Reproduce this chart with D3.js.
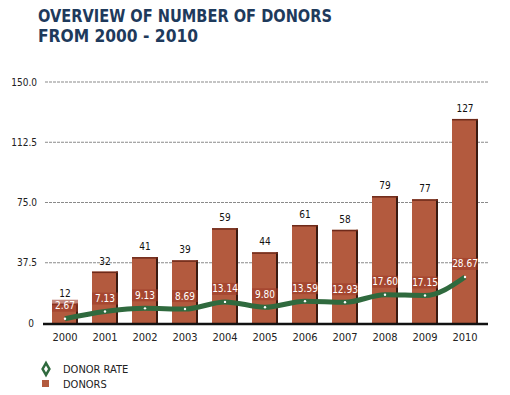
<!DOCTYPE html>
<html>
<head>
<meta charset="utf-8">
<script src="https://cdnjs.cloudflare.com/ajax/libs/d3/7.8.5/d3.min.js"></script>
<style>
  body { margin: 0; background: #fff; }
  svg { display: block; }
</style>
</head>
<body>
<div id="chart"></div>
<script>
// data
var years = ['2000', '2001', '2002', '2003', '2004', '2005', '2006', '2007', '2008', '2009', '2010']
var donors = [12, 32, 41, 39, 59, 44, 61, 58, 79, 77, 127]
var donorRate = [2.67, 7.13, 9.13, 8.69, 13.14, 9.80, 13.59, 12.93, 17.60, 17.15, 28.67]
var rateLabels = ['2.67', '7.13', '9.13', '8.69', '13.14', '9.80', '13.59', '12.93', '17.60', '17.15', '28.67']
var yTicks = [0, 37.5, 75, 112.5, 150]

var width = 510
var height = 395
var margin = {top: 82, left: 45, right: 25, bottom: 72}

var svg = d3.select('#chart')
    .append('svg')
    .attr('width', width)
    .attr('height', height)

// title
var title = svg.append('g')
    .attr('font-family', '"DejaVu Sans Condensed", "DejaVu Sans", sans-serif')
    .attr('font-weight', 'bold')
    .attr('font-size', 17)
    .attr('fill', '#1e3a5c')
title.append('text').attr('x', 38).attr('y', 22)
    .attr('textLength', 294).attr('lengthAdjust', 'spacingAndGlyphs')
    .text('OVERVIEW OF NUMBER OF DONORS')
title.append('text').attr('x', 38).attr('y', 42)
    .attr('textLength', 160).attr('lengthAdjust', 'spacingAndGlyphs')
    .text('FROM 2000 - 2010')

var x = d3.scaleBand()
    .domain(years)
    .range([margin.left, 485])
    .paddingInner(0.35)
    .paddingOuter(0.175)

var y = d3.scaleLinear()
    .domain([0, 150])
    .range([323, margin.top])

// gridlines
svg.append('g')
    .selectAll('line')
    .data(yTicks.filter(d => d > 0))
    .enter().append('line')
    .attr('x1', 45)
    .attr('x2', 488)
    .attr('y1', d => y(d))
    .attr('y2', d => y(d))
    .attr('stroke', '#8a8a8a')
    .attr('stroke-width', 1.2)
    .attr('stroke-dasharray', '3,1')

// y tick labels
svg.append('g')
    .attr('font-family', '"DejaVu Sans Condensed", "DejaVu Sans", sans-serif')
    .attr('font-size', 10)
    .attr('fill', '#222')
    .attr('text-anchor', 'end')
    .selectAll('text')
    .data(yTicks)
    .enter().append('text')
    .attr('x', d => d === 0 ? 34 : 37)
    .attr('y', d => y(d))
    .attr('dy', '0.35em')
    .text(d => d === 0 ? '0' : d3.format('.1f')(d))

// bars
var bars = svg.append('g')
bars.selectAll('rect.bar')
    .data(donors)
    .enter().append('rect')
    .attr('class', 'bar')
    .attr('x', (d, i) => x(years[i]))
    .attr('y', d => y(d))
    .attr('width', x.bandwidth())
    .attr('height', d => y(0) - y(d))
    .attr('fill', '#b35a3e')
// dark right edge
bars.selectAll('rect.edge')
    .data(donors)
    .enter().append('rect')
    .attr('class', 'edge')
    .attr('x', (d, i) => x(years[i]) + x.bandwidth() - 2)
    .attr('y', d => y(d))
    .attr('width', 2)
    .attr('height', d => y(0) - y(d))
    .attr('fill', '#3a1a10')
// darker top edge
bars.selectAll('rect.top')
    .data(donors)
    .enter().append('rect')
    .attr('class', 'top')
    .attr('x', (d, i) => x(years[i]))
    .attr('y', d => y(d))
    .attr('width', x.bandwidth())
    .attr('height', 1.5)
    .attr('fill', '#6e2a1a')

// donor counts
svg.append('g')
    .attr('font-family', '"DejaVu Sans Condensed", "DejaVu Sans", sans-serif')
    .attr('font-size', 10)
    .attr('fill', '#111')
    .attr('text-anchor', 'middle')
    .selectAll('text')
    .data(donors)
    .enter().append('text')
    .attr('x', (d, i) => x(years[i]) + x.bandwidth() / 2)
    .attr('y', d => y(d) - 7)
    .text(d => d)

// baseline
svg.append('line')
    .attr('x1', 43)
    .attr('x2', 488)
    .attr('y1', y(0) + 1)
    .attr('y2', y(0) + 1)
    .attr('stroke', '#111')
    .attr('stroke-width', 2.5)

// year labels
svg.append('g')
    .attr('font-family', '"DejaVu Sans Condensed", "DejaVu Sans", sans-serif')
    .attr('font-size', 11)
    .attr('fill', '#222')
    .attr('text-anchor', 'middle')
    .selectAll('text')
    .data(years)
    .enter().append('text')
    .attr('x', d => x(d) + x.bandwidth() / 2)
    .attr('y', 341)
    .text(d => d)

// donor rate line
var line = d3.line()
    .x((d, i) => x(years[i]) + x.bandwidth() / 2)
    .y(d => y(d))
    .curve(d3.curveMonotoneX)

svg.append('path')
    .datum(donorRate)
    .attr('d', line)
    .attr('fill', 'none')
    .attr('stroke', '#2f6a3e')
    .attr('stroke-width', 5)
    .attr('stroke-linejoin', 'round')

svg.append('g')
    .selectAll('circle')
    .data(donorRate)
    .enter().append('circle')
    .attr('cx', (d, i) => x(years[i]) + x.bandwidth() / 2)
    .attr('cy', d => y(d))
    .attr('r', 1.2)
    .attr('fill', '#fff')

// rate labels
var rl = svg.append('g')
    .attr('font-family', '"DejaVu Sans Condensed", "DejaVu Sans", sans-serif')
    .attr('font-size', 10)
    .selectAll('g')
    .data(donorRate)
    .enter().append('g')
    .attr('transform', (d, i) => `translate(${x(years[i]) + x.bandwidth() / 2}, ${y(d) - 13})`)
rl.append('rect')
    .attr('x', -13)
    .attr('y', -6)
    .attr('width', 26)
    .attr('height', 12)
    .attr('fill', '#9c3a28')
    .attr('opacity', 0.6)
rl.append('text')
    .attr('text-anchor', 'middle')
    .attr('dy', '0.35em')
    .attr('fill', '#fff')
    .text((d, i) => rateLabels[i])

// legend
var legend = svg.append('g')
    .attr('font-family', '"DejaVu Sans Condensed", "DejaVu Sans", sans-serif')
    .attr('font-size', 11)
    .attr('fill', '#222')
legend.append('path')
    .attr('d', d3.symbol().type(d3.symbolDiamond).size(40))
    .attr('transform', 'translate(46, 369)')
    .attr('fill', 'none')
    .attr('stroke', '#2f6a3e')
    .attr('stroke-width', 2.5)
legend.append('text').attr('x', 63).attr('y', 373).text('DONOR RATE')
legend.append('rect')
    .attr('x', 42)
    .attr('y', 380)
    .attr('width', 7)
    .attr('height', 7)
    .attr('fill', '#b35a3e')
legend.append('text').attr('x', 63).attr('y', 388).text('DONORS')
</script>
</body>
</html>
